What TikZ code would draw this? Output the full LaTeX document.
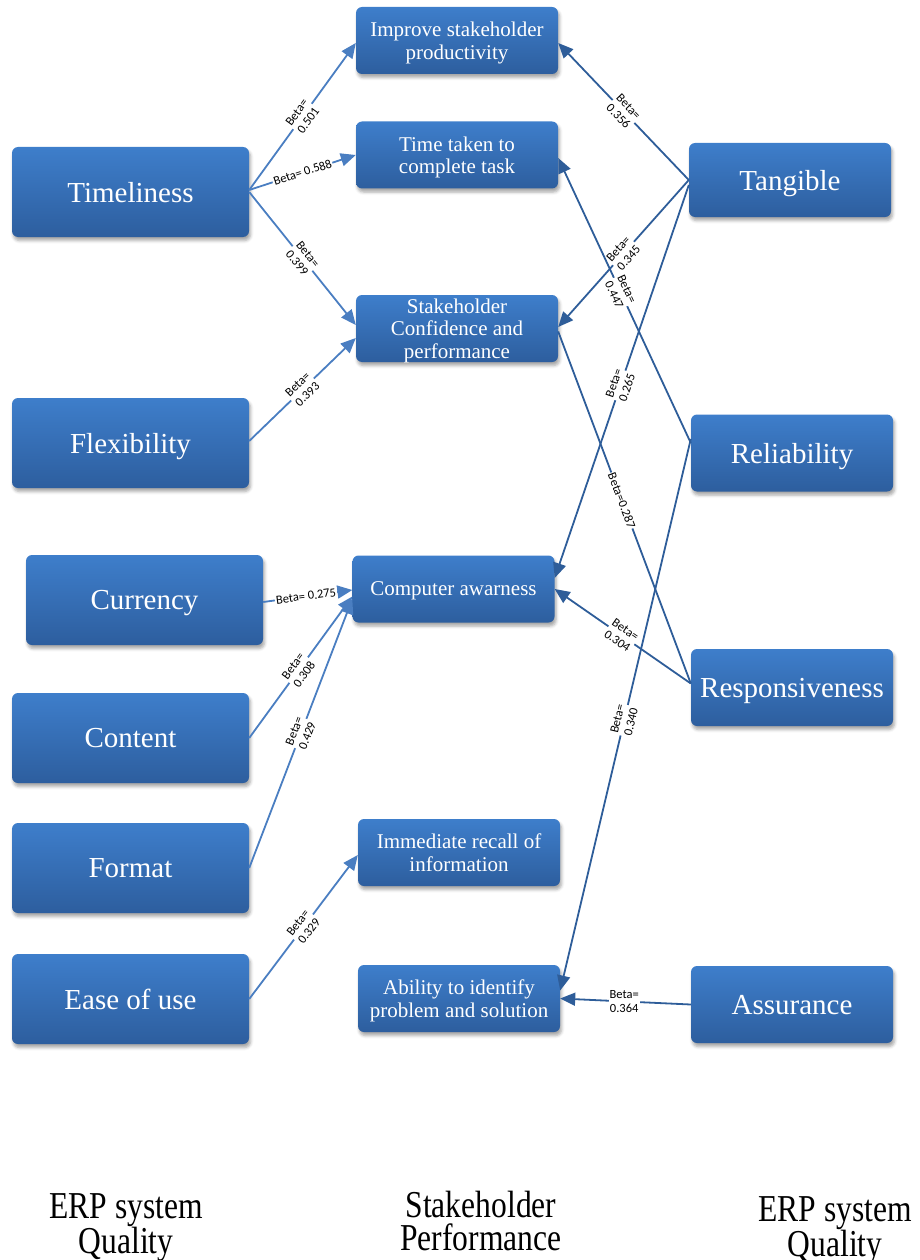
\documentclass[tikz,border=0pt]{standalone}
\usepackage{fontspec}
\setmainfont{Liberation Serif}
\newfontfamily\labelfont{Carlito}
\newfontfamily\condserif[FakeStretch=0.83]{Liberation Serif}
\usetikzlibrary{arrows.meta,shadows.blur}

\definecolor{boxtop}{RGB}{62,126,203}
\definecolor{boxbot}{RGB}{45,94,158}
\definecolor{leftedge}{RGB}{74,126,193}
\definecolor{rightedge}{RGB}{46,93,153}

\tikzset{
  box/.style={rounded corners=6pt, top color=boxtop, bottom color=boxbot,
    text=white, align=center, inner sep=0pt, text depth=0pt,
    blur shadow={shadow xshift=1.5pt, shadow yshift=-3.5pt,
      shadow opacity=35, shadow blur radius=3pt}},
  bigbox/.style={box, minimum width=237pt, minimum height=90pt,
    font=\fontsize{29}{31}\selectfont},
  midbox/.style={box, minimum width=202pt, minimum height=67pt,
    font=\fontsize{21}{22.5}\selectfont},
  rbox/.style={box, minimum width=202pt, minimum height=77pt,
    font=\fontsize{29}{31}\selectfont},
  ledge/.style={draw=leftedge, line width=1.8pt,
    -{Triangle[length=15pt,width=13pt]}, color=leftedge},
  redge/.style={draw=rightedge, line width=1.8pt,
    -{Triangle[length=15pt,width=13pt]}, color=rightedge},
  beta/.style={fill=white, inner sep=1pt, text=black, align=center,
    font=\labelfont\fontsize{12.5}{14}\selectfont},
  sl/.style={beta, sloped},
  caption/.style={font=\condserif\fontsize{38}{33}\selectfont,
    align=center, inner sep=0pt, anchor=north, text=black}
}

\begin{document}
\begin{tikzpicture}[x=1pt,y=-1pt]
\useasboundingbox (0,0) rectangle (920,1260);

% ERP system quality (left column)
\node[bigbox] (tim)  at (130.5,192)   {Timeliness};
\node[bigbox] (flex) at (130.5,443)   {Flexibility};
\node[bigbox] (cur)  at (144.5,600)   {Currency};
\node[bigbox] (con)  at (130.5,738)   {Content};
\node[bigbox] (form) at (130.5,868)   {Format};
\node[bigbox] (ease) at (130.5,999)   {Ease of use};

% stakeholder performance (middle column)
\node[midbox] (imp)  at (457,40.5)  {Improve stakeholder\\productivity};
\node[midbox] (time) at (457,155)   {Time taken to\\complete task};
\node[midbox] (conf) at (457,328.5) {Stakeholder\\Confidence and\\performance};
\node[midbox] (comp) at (453.5,589) {Computer awarness};
\node[midbox] (rec)  at (459,852.5) {Immediate recall of\\information};
\node[midbox] (abil) at (459,998.5) {Ability to identify\\problem and solution};

% ERP system quality (right column)
\node[rbox, minimum height=74pt] (tan)  at (790,180)   {Tangible};
\node[rbox] (rel)  at (792,453)   {Reliability};
\node[rbox] (resp) at (792,687.5) {Responsiveness};
\node[rbox] (ass)  at (792,1004.5){Assurance};

% left-hand paths
\draw[ledge] ([yshift=2pt]tim.east) -- node[sl]{Beta=\\0.501} ([yshift=-2.5pt]imp.west);
\draw[ledge] ([yshift=2pt]tim.east) -- node[sl]{Beta= 0.588} (time.west);
\draw[ledge] (tim.east) -- node[sl]{Beta=\\0.399} ([yshift=3.5pt]conf.west);
\draw[ledge] ([yshift=2pt]flex.east) -- node[sl]{Beta=\\0.393} ([yshift=-9.5pt]conf.west);
\draw[ledge] ([yshift=-2pt]cur.east) -- node[sl,pos=0.48]{Beta= 0.275} ([yshift=-1pt]comp.west);
\draw[ledge] (con.east) -- node[sl,pos=0.48]{Beta=\\0.308} ([yshift=-7.5pt]comp.west);
\draw[ledge] (form.east) -- node[sl]{Beta=\\0.429} ([yshift=-10pt]comp.west);
\draw[ledge] (ease.east) -- node[sl]{Beta=\\0.329} ([yshift=-2.5pt]rec.west);

% right-hand paths
\draw[redge] (tan.west) -- node[sl]{Beta=\\0.356} ([yshift=-2.5pt]imp.east);
\draw[redge] (tan.west) -- node[sl]{Beta=\\0.345} ([yshift=1.5pt]conf.east);
\draw[redge] ([yshift=-5pt]tan.west) -- node[sl,pos=0.51]{Beta=\\0.265} ([yshift=11pt]comp.east);
\draw[redge] ([yshift=10pt]rel.west) -- node[sl,pos=0.53]{Beta=\\0.447} ([yshift=-3pt]time.east);
\draw[redge] ([yshift=14pt]rel.west) -- node[sl,pos=0.51]{Beta=\\0.340} ([yshift=8pt]abil.east);
\draw[redge,-] ([yshift=-3pt]conf.east) -- node[sl,pos=0.48]{Beta=0.287} ([yshift=4pt]resp.west);
\draw[redge] ([yshift=4pt]resp.west) -- node[sl,pos=0.51]{Beta=\\0.304} (comp.east);
\draw[redge] (ass.west) -- node[beta,pos=0.51]{Beta=\\0.364} (abil.east);

% column captions
\node[caption] (capl) at (126,1193) {ERP system\\Quality};
\node[caption] (capm) at (481,1191) {Stakeholder\\Performance};
\node[caption] (capr) at (835,1196) {ERP system\\Quality};
\end{tikzpicture}
\end{document}
